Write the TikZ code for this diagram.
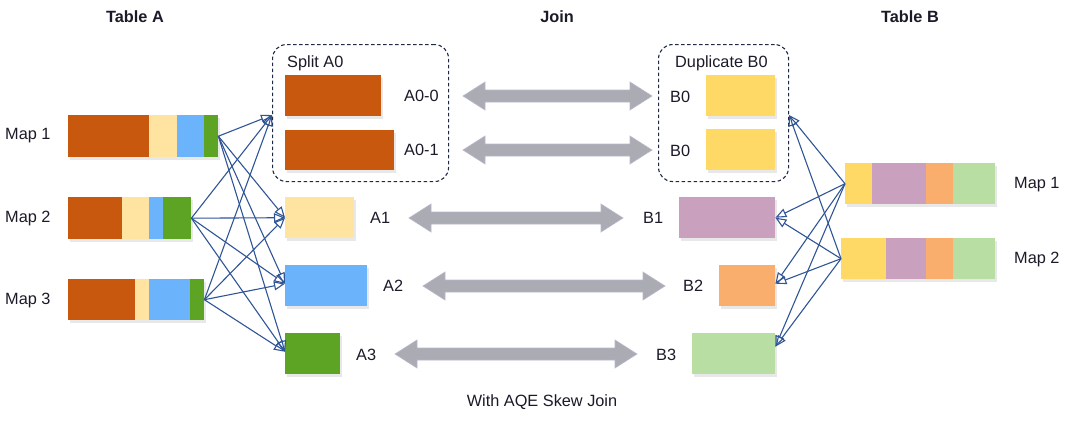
\documentclass[tikz,border=0pt]{standalone}
\usepackage{fontspec}
\setmainfont{Liberation Sans}
\usetikzlibrary{arrows.meta,shadows}
\definecolor{aor}{HTML}{C8580D}
\definecolor{aye}{HTML}{FFE3A0}
\definecolor{abl}{HTML}{6BB3FA}
\definecolor{agr}{HTML}{5EA424}
\definecolor{bye}{HTML}{FFD966}
\definecolor{bpk}{HTML}{C9A1BE}
\definecolor{bor}{HTML}{F9AE6E}
\definecolor{bgr}{HTML}{B9DEA4}
\definecolor{txt}{HTML}{1A1A28}
\definecolor{linkblue}{HTML}{2F5597}
\definecolor{grpc}{HTML}{1F2A44}
\definecolor{joing}{HTML}{ABABB3}
\definecolor{joinedge}{HTML}{B8B8CC}
\newcommand\joinarrow[3]{%
  \filldraw[joinar] (#1,#3) -- ({#1+22},{#3-14}) -- ({#1+22},{#3-6}) -- ({#2-22},{#3-6}) -- ({#2-22},{#3-14}) -- (#2,#3) -- ({#2-22},{#3+14}) -- ({#2-22},{#3+6}) -- ({#1+22},{#3+6}) -- ({#1+22},{#3+14}) -- cycle;}
\begin{document}
\begin{tikzpicture}[x=1pt,y=-1pt,
  font=\fontsize{16.3}{19}\selectfont,
  bar/.style={inner sep=0, anchor=north west, draw=none, fill=white,
    drop shadow={opacity=0.18, shadow xshift=2pt, shadow yshift=-2.5pt}},
  lbl/.style={inner sep=0, text=txt},
  ttl/.style={inner sep=0, text=txt, font=\fontsize{16.3}{19}\selectfont\bfseries},
  link/.style={draw=linkblue, line width=1.1pt, -{Triangle[open,length=11pt,width=9pt]}},
  grp/.style={draw=grpc, dash pattern=on 3.5pt off 2.5pt, rounded corners=14pt, line width=1.1pt, inner sep=0, anchor=north west},
  joinar/.style={fill=joing, draw=joinedge, line width=0.6pt, line join=miter}]
\useasboundingbox (0,0) rectangle (1080,431);

% titles
\node[ttl] (ta) at (135,17) {Table A};
\node[ttl] (tj) at (557,17) {Join};
\node[ttl] (tb) at (910,17) {Table B};
\node[lbl] (cap) at (542,402) {With AQE Skew Join};

% Table A maps
\node[bar, minimum width=150pt, minimum height=42pt] (am1) at (68,115) {};
\fill[aor] (68,115) rectangle (149,157);
\fill[aye] (149,115) rectangle (177,157);
\fill[abl] (177,115) rectangle (204,157);
\fill[agr] (204,115) rectangle (218,157);
\node[bar, minimum width=123pt, minimum height=42pt] (am2) at (68,197) {};
\fill[aor] (68,197) rectangle (122,239);
\fill[aye] (122,197) rectangle (149,239);
\fill[abl] (149,197) rectangle (163,239);
\fill[agr] (163,197) rectangle (191,239);
\node[bar, minimum width=136pt, minimum height=41pt] (am3) at (68,279) {};
\fill[aor] (68,279) rectangle (135,320);
\fill[aye] (135,279) rectangle (149,320);
\fill[abl] (149,279) rectangle (190,320);
\fill[agr] (190,279) rectangle (204,320);
\node[lbl, anchor=west] (lm1) at (5,136) {Map 1};
\node[lbl, anchor=west] (lm2) at (5,218) {Map 2};
\node[lbl, anchor=west] (lm3) at (5,300) {Map 3};

% Split A0 group
\node[grp, minimum width=176pt, minimum height=137pt] (split) at (272,44) {};
\node[lbl, anchor=west] (lsplit) at (287,63) {Split A0};
\node[bar, fill=aor, minimum width=96pt, minimum height=41pt] (a00) at (285,75) {};
\node[bar, fill=aor, minimum width=109pt, minimum height=40pt] (a01) at (285,130) {};
\node[lbl, anchor=west] (la00) at (404,96) {A0-0};
\node[lbl, anchor=west] (la01) at (404,150) {A0-1};
\node[bar, fill=aye, minimum width=69pt, minimum height=41pt] (a1) at (285,197) {};
\node[bar, fill=abl, minimum width=82pt, minimum height=41pt] (a2) at (285,265) {};
\node[bar, fill=agr, minimum width=55pt, minimum height=41pt] (a3) at (285,333) {};
\node[lbl, anchor=west] (la1) at (370,218) {A1};
\node[lbl, anchor=west] (la2) at (383,286) {A2};
\node[lbl, anchor=west] (la3) at (356,355) {A3};

% Duplicate B0 group
\node[grp, minimum width=130pt, minimum height=137pt] (dup) at (658,44) {};
\node[lbl, anchor=west] (ldup) at (675,63) {Duplicate B0};
\node[bar, fill=bye, minimum width=69pt, minimum height=41pt] (b00) at (706,75) {};
\node[bar, fill=bye, minimum width=69pt, minimum height=41pt] (b01) at (706,129) {};
\node[lbl, anchor=west] (lb00) at (670,97) {B0};
\node[lbl, anchor=west] (lb01) at (670,151) {B0};
\node[bar, fill=bpk, minimum width=96pt, minimum height=41pt] (b1) at (679,197) {};
\node[bar, fill=bor, minimum width=56pt, minimum height=41pt] (b2) at (719,265) {};
\node[bar, fill=bgr, minimum width=83pt, minimum height=41pt] (b3) at (692,333) {};
\node[lbl, anchor=west] (lb1) at (643,218) {B1};
\node[lbl, anchor=west] (lb2) at (683,286) {B2};
\node[lbl, anchor=west] (lb3) at (656,355) {B3};

% Table B maps
\node[bar, minimum width=150pt, minimum height=41pt] (bm1) at (845,163) {};
\fill[bye] (845,163) rectangle (872,204);
\fill[bpk] (872,163) rectangle (926,204);
\fill[bor] (926,163) rectangle (953,204);
\fill[bgr] (953,163) rectangle (995,204);
\node[bar, minimum width=154pt, minimum height=41pt] (bm2) at (841,238) {};
\fill[bye] (841,238) rectangle (886,279);
\fill[bpk] (886,238) rectangle (926,279);
\fill[bor] (926,238) rectangle (953,279);
\fill[bgr] (953,238) rectangle (995,279);
\node[lbl, anchor=west] (rm1) at (1014,185) {Map 1};
\node[lbl, anchor=west] (rm2) at (1014,259) {Map 2};

% join arrows
\joinarrow{463}{652}{96}
\joinarrow{463}{652}{150}
\joinarrow{409}{623}{218}
\joinarrow{423}{665}{286}
\joinarrow{395}{637}{354}

% shuffle links, table A
\foreach \m in {am1,am2,am3}{
  \draw[link] (\m.east) -- ([yshift=-2pt]split.west);
  \draw[link] (\m.east) -- (a1.west);
  \draw[link] (\m.east) -- ([yshift=2pt]a2.west);
  \draw[link] (\m.east) -- ([yshift=2pt]a3.west);
}
% shuffle links, table B
\foreach \m in {bm1,bm2}{
  \draw[link] (\m.west) -- ([yshift=-2pt]dup.east);
  \draw[link] (\m.west) -- (b1.east);
  \draw[link] (\m.west) -- ([yshift=2pt]b2.east);
  \draw[link] (\m.west) -- ([yshift=7pt]b3.east);
}
\end{tikzpicture}
\end{document}
